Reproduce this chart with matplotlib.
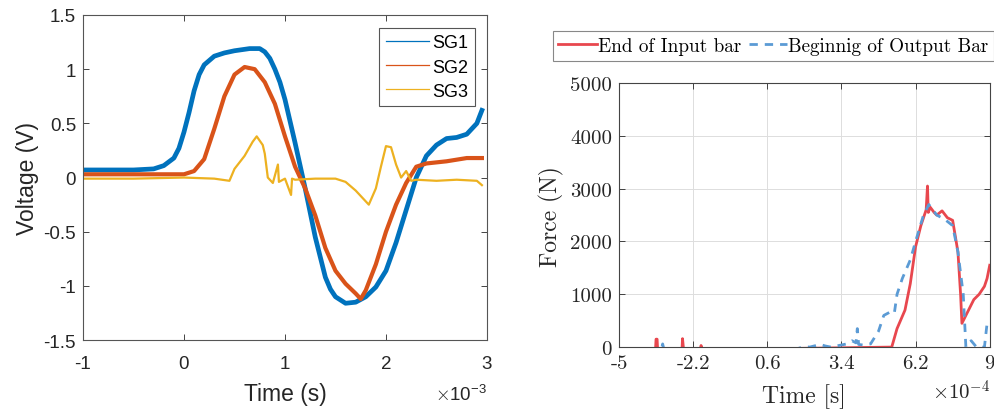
"""Strain gauge voltages and bar forces, two panels."""

import matplotlib
import matplotlib.pyplot as plt
from matplotlib.lines import Line2D

matplotlib.use('Agg')

plt.rcParams['axes.unicode_minus'] = False
plt.rcParams['mathtext.fontset'] = 'cm'

# ---- left panel: voltages (time in ms, i.e. x 1e-3 s) ----
t_sg1 = [-1.0, -0.5, -0.3, -0.2, -0.1, -0.05, 0.0, 0.05, 0.1, 0.15, 0.2, 0.3, 0.4, 0.5,
         0.65, 0.75, 0.8, 0.85, 0.9, 0.95, 1.0, 1.1, 1.2, 1.3, 1.4, 1.45, 1.5, 1.6, 1.7,
         1.8, 1.9, 2.0, 2.1, 2.2, 2.3, 2.4, 2.5, 2.6, 2.7, 2.8, 2.9, 2.95]
v_sg1 = [0.07, 0.07, 0.08, 0.11, 0.18, 0.27, 0.42, 0.6, 0.8, 0.95, 1.04, 1.12, 1.15, 1.17,
         1.19, 1.19, 1.16, 1.1, 1.0, 0.88, 0.72, 0.32, -0.1, -0.55, -0.92, -1.03, -1.1, -1.16,
         -1.15, -1.1, -1.01, -0.86, -0.6, -0.3, 0.0, 0.2, 0.3, 0.36, 0.37, 0.4, 0.5, 0.62]

t_sg2 = [-1.0, -0.5, 0.0, 0.1, 0.2, 0.3, 0.4, 0.5, 0.6, 0.7, 0.8, 0.9, 1.0, 1.1, 1.2,
         1.3, 1.4, 1.5, 1.6, 1.7, 1.75, 1.8, 1.9, 2.0, 2.1, 2.2, 2.3, 2.4, 2.6, 2.8, 2.95]
v_sg2 = [0.03, 0.03, 0.03, 0.06, 0.17, 0.45, 0.75, 0.95, 1.02, 1.0, 0.88, 0.68, 0.38, 0.1,
         -0.1, -0.35, -0.65, -0.86, -0.98, -1.07, -1.12, -1.04, -0.8, -0.5, -0.25, -0.05,
         0.1, 0.13, 0.15, 0.18, 0.18]

t_sg3 = [-1.0, -0.5, 0.0, 0.3, 0.45, 0.5, 0.6, 0.68, 0.72, 0.78, 0.8, 0.83, 0.88, 0.93,
         0.94, 1.0, 1.06, 1.07, 1.1, 1.3, 1.5, 1.6, 1.7, 1.8, 1.83, 1.9, 1.95, 2.0, 2.05,
         2.1, 2.15, 2.2, 2.25, 2.3, 2.5, 2.7, 2.9, 2.95]
v_sg3 = [-0.01, -0.01, 0.0, -0.01, -0.03, 0.08, 0.2, 0.33, 0.38, 0.3, 0.22, 0.0, -0.05, 0.12,
         -0.04, -0.01, -0.16, -0.01, -0.02, -0.01, -0.01, -0.04, -0.12, -0.22, -0.25, -0.1,
         0.1, 0.29, 0.28, 0.12, 0.0, 0.06, -0.03, -0.02, -0.03, -0.02, -0.03, -0.07]

# ---- right panel: forces (time in units of 1e-4 s) ----
t_in = [-5.0, -3.62, -3.6, -3.56, -3.54, -2.62, -2.6, -2.56, -1.92, -1.9, -1.86, 5.3, 5.5,
        5.8, 6.0, 6.2, 6.4, 6.6, 6.65, 6.68, 6.75, 6.9, 7.0, 7.2, 7.4, 7.6, 7.8, 7.9,
        7.95, 8.05, 8.2, 8.4, 8.6, 8.8, 8.9, 9.0]
f_in = [-50, -50, 150, 150, -50, -50, 160, -50, -50, 30, -50, 0, 350,
        700, 1200, 1900, 2300, 2600, 3050, 2550, 2650, 2550, 2500, 2580, 2450, 2400, 1800, 1000,
        450, 550, 700, 900, 1000, 1150, 1300, 1550]

t_out = [-5.0, -3.4, -3.35, -3.3, 1.6, 2.0, 2.2, 2.6, 2.8, 3.0, 3.4, 3.6, 3.8, 3.95, 4.0,
         4.05, 4.2, 4.5, 4.8, 5.0, 5.3, 5.4, 5.5, 5.7, 6.0, 6.2, 6.5, 6.7, 7.0, 7.3, 7.6,
         7.8, 8.0, 8.1, 8.3, 8.5, 8.8, 8.9, 9.0]
f_out = [-50, -50, 60, -50, -50, 10, 0, 50, 20, 0, 40, 60, 120, 80, 350,
         50, 40, 60, 300, 600, 680, 650, 1000, 1300, 1650, 2000, 2500, 2700, 2500, 2420, 2300,
         1800, 1000, 0, 120, 0, 0, 450, 450]

sg_labels = ['SG1', 'SG2', 'SG3']
sg_colors = ['#0072BD', '#D95319', '#EDB120']
force_labels = ['End of Input bar', 'Beginnig of Output Bar']
force_colors = ['#E8474E', '#5B9BD5']

left_xticks = [-1, 0, 1, 2, 3]
left_yticks = [-1.5, -1, -0.5, 0, 0.5, 1, 1.5]
right_xticks = [-5, -2.2, 0.6, 3.4, 6.2, 9]
right_yticks = [0, 1000, 2000, 3000, 4000, 5000]

matlab_gray = '#262626'
fig = plt.figure(figsize=(9.94, 4.10), dpi=100)

# left panel (MATLAB-like)
ax1 = fig.add_axes([0.0835, 0.168, 0.4064, 0.793])
sans = ['Liberation Sans', 'DejaVu Sans']
ax1.plot(t_sg1, v_sg1, color=sg_colors[0], lw=3.4, solid_joinstyle='round')
ax1.plot(t_sg2, v_sg2, color=sg_colors[1], lw=3.0, solid_joinstyle='round')
ax1.plot(t_sg3, v_sg3, color=sg_colors[2], lw=1.6)
ax1.set_xlim(-1, 3)
ax1.set_ylim(-1.5, 1.5)
ax1.set_xticks(left_xticks)
ax1.set_yticks(left_yticks)
ax1.set_xticklabels(['%g' % v for v in left_xticks], fontfamily=sans, fontsize=13.5)
ax1.set_yticklabels(['%g' % v for v in left_yticks], fontfamily=sans, fontsize=13.5)
ax1.tick_params(direction='in', top=True, right=True, length=4, width=0.6,
                colors=matlab_gray, labelcolor=matlab_gray)
ax1.tick_params(axis='x', pad=11)
ax1.tick_params(axis='y', pad=5)
for sp in ax1.spines.values():
    sp.set_color('#555555')
    sp.set_linewidth(0.8)
ax1.set_xlabel('Time (s)', fontfamily=sans, fontsize=16.5, color=matlab_gray, labelpad=7)
ax1.set_ylabel('Voltage (V)', fontfamily=sans, fontsize=16.5, color=matlab_gray, labelpad=3)
ax1.text(1.0, -0.135, r'$\times\mathregular{10^{-3}}$', transform=ax1.transAxes,
         ha='right', va='top', fontfamily=sans, fontsize=13.5, color=matlab_gray)
handles1 = [Line2D([], [], color=c, lw=0.9) for c in sg_colors]
leg1 = ax1.legend(handles1, sg_labels, loc='upper right', bbox_to_anchor=(0.97, 0.96),
                  prop={'family': sans, 'size': 13}, handlelength=2.4, handletextpad=0.2,
                  labelspacing=0.4, borderpad=0.35, fancybox=False, framealpha=1,
                  edgecolor='#555555', borderaxespad=0.0)
leg1.get_frame().set_linewidth(0.8)

# right panel (LaTeX-like)
ax2 = fig.add_axes([0.6227, 0.151, 0.373, 0.644])
serif = 'cmr10'
ax2.plot(t_in, f_in, color=force_colors[0], lw=2.0, label=force_labels[0])
ax2.plot(t_out, f_out, color=force_colors[1], lw=2.0, ls=(0, (3, 2.5)), label=force_labels[1])
ax2.set_xlim(-5, 9)
ax2.set_ylim(0, 5000)
ax2.set_xticks(right_xticks)
ax2.set_yticks(right_yticks)
ax2.set_xticklabels(['%g' % v for v in right_xticks], fontfamily=serif, fontsize=15)
ax2.set_yticklabels(['%g' % v for v in right_yticks], fontfamily=serif, fontsize=15)
ax2.grid(True, color='#dddddd', lw=0.7)
ax2.set_axisbelow(True)
ax2.tick_params(direction='in', top=True, right=True, length=4, width=0.6,
                colors=matlab_gray, labelcolor=matlab_gray, pad=5)
for sp in ax2.spines.values():
    sp.set_color('#444444')
    sp.set_linewidth(0.8)
ax2.set_xlabel('Time [s]', fontfamily=serif, fontsize=17, color=matlab_gray, labelpad=8)
ax2.set_ylabel('Force (N)', fontfamily=serif, fontsize=17, color=matlab_gray, labelpad=4)
ax2.text(1.0, -0.12, r'$\times10^{-4}$', transform=ax2.transAxes,
         ha='right', va='top', fontsize=15, color=matlab_gray)
leg2 = fig.legend(loc='lower left', bbox_to_anchor=(0.556, 0.849),
                  ncol=2, prop={'family': serif, 'size': 13.8},
                  handlelength=2.0, handletextpad=0.05, columnspacing=0.4,
                  borderpad=0.3, fancybox=False, framealpha=1, edgecolor='#888888',
                  borderaxespad=0.0)
leg2.get_frame().set_linewidth(0.8)

fig.savefig('out.png', dpi=100)
plt.close(fig)
